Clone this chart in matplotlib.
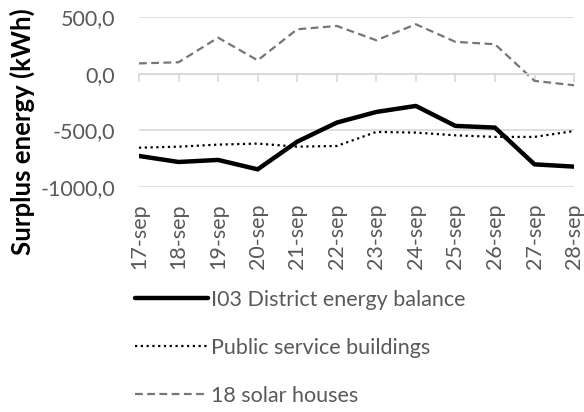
import matplotlib
matplotlib.use("Agg")
import matplotlib.pyplot as plt
from matplotlib.ticker import FixedLocator

plt.rcParams['font.family'] = ['Lato', 'DejaVu Sans']

# --- Data ---
days = ["17-sep", "18-sep", "19-sep", "20-sep", "21-sep", "22-sep",
        "23-sep", "24-sep", "25-sep", "26-sep", "27-sep", "28-sep"]
district = [-726, -779, -761, -844, -600, -432, -338, -285, -461, -476, -800, -820]
public = [-653, -644, -626, -617, -644, -638, -514, -520, -544, -558, -558, -506]
solar = [90, 100, 317, 117, 391, 420, 294, 435, 280, 259, -64, -103]
yticks = [500, 0, -500, -1000]

grey = "#595959"
x = list(range(len(days)))

fig = plt.figure(figsize=(5.84, 4.12), dpi=100)
ax = fig.add_axes([0.238, 0.546, 0.745, 0.413])

ax.plot(x, district, color="black", lw=3.2, solid_capstyle="round",
        label="I03 District energy balance")
ax.plot(x, public, color="black", lw=1.6, linestyle=(0, (1, 1.6)),
        label="Public service buildings")
ax.plot(x, solar, color="#767676", lw=1.6, linestyle=(0, (3.5, 2)),
        label="18 solar houses")

ax.set_xlim(0, len(days) - 1)
ax.set_ylim(-1000, 500)
ax.yaxis.set_major_locator(FixedLocator(yticks))
ax.set_yticklabels([f"{v:.1f}".replace(".", ",") for v in yticks])
ax.grid(axis="y", color="#d9d9d9", lw=1.2)
ax.set_axisbelow(True)
for s in ["top", "right", "left"]:
    ax.spines[s].set_visible(False)
# category axis crosses at zero, labels stay at the bottom
ax.spines["bottom"].set_position(("data", 0))
ax.spines["bottom"].set_color("#d9d9d9")
ax.spines["bottom"].set_linewidth(1.2)
ax.set_xticks(x)
ax.tick_params(axis="x", direction="out", length=6, color="#d9d9d9",
               width=1.2, labelbottom=False)
ax.tick_params(axis="y", length=0, labelsize=15.5, labelcolor=grey, pad=17)

sec = ax.secondary_xaxis(0)
sec.set_xticks(x)
sec.set_xticklabels(days, rotation=90)
sec.spines["bottom"].set_visible(False)
sec.tick_params(length=0, labelsize=15.5, labelcolor=grey, pad=12)

fig.text(0.038, 0.68, "Surplus energy (kWh)", rotation=90, ha="center",
         va="center", fontsize=18.5, fontweight="bold", color="black")

fig.legend(loc="upper left", bbox_to_anchor=(0.198, 0.344), frameon=False,
           fontsize=15.5, labelcolor=grey, handlelength=3.4,
           labelspacing=1.3, handletextpad=0.15)

fig.savefig("out.png", dpi=100)
